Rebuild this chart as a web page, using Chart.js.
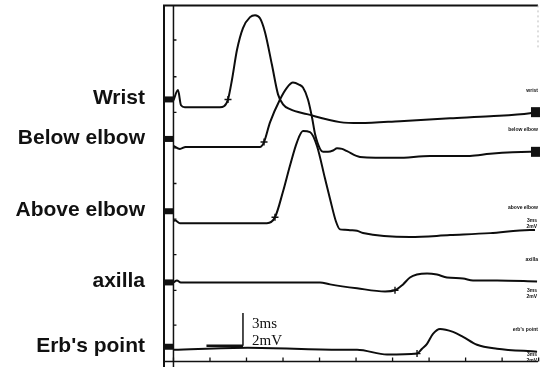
<!DOCTYPE html>
<html>
<head>
<meta charset="utf-8">
<script src="https://cdn.jsdelivr.net/npm/chart.js@4.4.0/dist/chart.umd.min.js"></script>
<style>
  body { margin: 0; background: #fff; }
  #wrap { width: 548px; height: 367px; }
</style>
</head>
<body>
<div id="wrap"><canvas id="grafico" width="548" height="367"></canvas></div>
<script>
// nomes dos pontos de estimulo
var nomes = ['Wrist', 'Below elbow', 'Above elbow', 'axilla', "Erb's point"]
var nomesPequenos = ['wrist', 'below elbow', 'above elbow', 'axilla', "erb's point"]

// linha de base de cada traco (mV, empilhado)
var baseTraco = [15.58, 13.15, 8.48, 4.85, 0.73]
// nivel do marcador preto da esquerda
var baseMarca = [16.06, 13.64, 9.21, 4.85, 0.91]

// tempo (ms) e amplitude (mV, relativa a base)
var wristT = [0, 0.37, 0.62, 0.94, 3.82, 4.15, 4.48, 4.81, 5.22, 5.71, 6.29, 6.70, 7.11, 7.52, 8.09, 8.59, 9.00, 9.57, 10.97, 13.68, 15.32, 18.61, 22.72, 26.01, 29.29, 29.70]
var wristV = [0.42, 1.05, 0.12, 0, 0, 0.06, 0.48, 1.70, 3.52, 4.85, 5.52, 5.64, 5.45, 4.6, 2.6, 0.79, 0.18, -0.12, -0.42, -0.91, -0.97, -0.85, -0.67, -0.55, -0.36, -0.30]

var belowT = [0, 0.53, 1.0, 7.10, 7.44, 7.93, 8.75, 9.33, 9.82, 10.31, 10.64, 11.05, 11.38, 11.63, 12.04, 12.29, 12.70, 13.11, 13.44, 13.85, 14.26, 15.32, 18.37, 21.08, 24.36, 26.01, 29.29, 29.70]
var belowV = [0.06, -0.12, 0, 0, 0.30, 1.5, 2.91, 3.64, 3.94, 3.82, 3.64, 2.91, 1.82, 0.79, -0.12, -0.30, -0.30, -0.22, -0.08, -0.12, -0.26, -0.61, -0.67, -0.55, -0.55, -0.42, -0.30, -0.30]

var aboveT = [0, 0.12, 0.53, 1.0, 7.68, 8.34, 9.00, 9.57, 10.15, 10.64, 11.22, 11.79, 12.45, 12.86, 13.35, 13.68, 14.09, 14.50, 15.08, 15.57, 19.43, 22.72, 26.01, 29.29, 29.70]
var aboveV = [0.12, 0.18, 0, 0, 0, 0.36, 1.94, 3.52, 4.97, 5.64, 5.58, 4.73, 2.73, 1.5, 0.1, -0.38, -0.40, -0.43, -0.47, -0.6, -0.85, -0.73, -0.61, -0.42, -0.42]

var axillaT = [0, 0.29, 0.6, 12.04, 12.86, 15.08, 17.38, 18.20, 18.86, 19.43, 20.0, 20.83, 21.65, 22.47, 23.79, 24.61, 26.58, 29.87]
var axillaV = [0, 0.12, 0, 0, -0.12, -0.36, -0.55, -0.48, -0.12, 0.30, 0.48, 0.55, 0.48, 0.30, 0.24, 0.12, 0.12, 0.06]

var erbT = [0, 6.12, 13.68, 15.08, 17.54, 20.01, 20.42, 20.83, 21.32, 21.90, 22.97, 23.79, 24.94, 26.58, 29.87]
var erbV = [0, 0.12, 0, 0, -0.30, -0.24, 0.06, 0.36, 0.97, 1.27, 1.09, 0.79, 0.30, 0.06, -0.12]

// latencia (inicio) de cada traco, em ms
var latencia = [4.48, 7.44, 8.34, 18.20, 20.01]

// eixo do tempo: marcas a cada 3 ms
var ticksX = [0, 3, 6, 9, 12, 15, 18, 21, 24, 27, 30]
var ticksY = [19.70, 17.45, 15.27, 13.09, 10.91, 8.73, 6.55, 4.36, 2.24]

// barra de calibracao 3ms / 2mV
var barraInicio = 2.71
var barraMs = 3
var barraMv = 2
var barraBase = 0.97

var tempos = [wristT, belowT, aboveT, axillaT, erbT]
var valores = [wristV, belowV, aboveV, axillaV, erbV]

function montarTraco(i) {
    var pts = []
    for (let k = 0; k < tempos[i].length; k++) {
        pts.push({ x: tempos[i][k], y: baseTraco[i] + valores[i][k] })
    }
    return pts
}

var datasets = []
for (let i = 0; i < nomes.length; i++) {
    datasets.push({
        label: nomes[i],
        data: montarTraco(i),
        borderColor: '#0d0d0d',
        borderWidth: 2,
        pointRadius: 0,
        cubicInterpolationMode: 'monotone',
        fill: false
    })
}

// cruzinhas nas latencias
var cruzes = []
for (let i = 0; i < latencia.length; i++) {
    var k = tempos[i].indexOf(latencia[i])
    cruzes.push({ x: latencia[i], y: baseTraco[i] + valores[i][k] })
}
datasets.push({
    label: 'latencia',
    data: cruzes,
    showLine: false,
    pointStyle: 'cross',
    pointRadius: 3.5,
    pointBorderWidth: 1.4,
    pointBorderColor: '#111'
})

// barra de calibracao (horizontal mais grossa, vertical fina)
datasets.push({
    label: 'barra_h',
    data: [
        { x: barraInicio, y: barraBase },
        { x: barraInicio + barraMs, y: barraBase }
    ],
    borderColor: '#111',
    borderWidth: 2.4,
    pointRadius: 0
})
datasets.push({
    label: 'barra_v',
    data: [
        { x: barraInicio + barraMs, y: barraBase },
        { x: barraInicio + barraMs, y: barraBase + barraMv }
    ],
    borderColor: '#111',
    borderWidth: 1.5,
    pointRadius: 0
})

var moldura = {
    id: 'moldura',
    afterDraw(chart) {
        var ctx = chart.ctx
        var sx = chart.scales.x
        var sy = chart.scales.y
        var a = chart.chartArea
        var x0 = sx.getPixelForValue(0)
        ctx.save()
        ctx.strokeStyle = '#111'
        ctx.fillStyle = '#111'

        // bordas
        ctx.lineWidth = 2
        ctx.beginPath()
        ctx.moveTo(a.left + 1, a.top); ctx.lineTo(a.left + 1, 367)
        ctx.moveTo(a.left, a.top); ctx.lineTo(a.right - 1, a.top)
        ctx.stroke()
        ctx.lineWidth = 1.5
        ctx.beginPath()
        ctx.moveTo(x0, a.top); ctx.lineTo(x0, 367)
        ctx.moveTo(a.left, a.bottom); ctx.lineTo(a.right - 1, a.bottom)
        ctx.stroke()

        // pontilhado da direita
        ctx.strokeStyle = '#bbb'
        ctx.lineWidth = 1
        ctx.setLineDash([2, 3])
        ctx.beginPath()
        ctx.moveTo(a.right - 1, a.top); ctx.lineTo(a.right - 1, a.top + 45)
        ctx.stroke()
        ctx.setLineDash([])
        ctx.strokeStyle = '#111'

        // marcas dos eixos
        ctx.lineWidth = 1.3
        ctx.beginPath()
        for (let i = 0; i < ticksX.length; i++) {
            var px = sx.getPixelForValue(ticksX[i])
            ctx.moveTo(px, a.bottom); ctx.lineTo(px, a.bottom - 4)
        }
        for (let i = 0; i < ticksY.length; i++) {
            var py = sy.getPixelForValue(ticksY[i])
            ctx.moveTo(x0, py); ctx.lineTo(x0 + 3, py)
        }
        ctx.stroke()

        // blocos pretos e nomes
        for (let i = 0; i < nomes.length; i++) {
            var yb = sy.getPixelForValue(baseMarca[i])
            ctx.fillRect(a.left, yb - 3, x0 - a.left, 6)

            ctx.font = 'bold 21px "Liberation Sans", Arial, sans-serif'
            ctx.textAlign = 'right'
            ctx.textBaseline = 'middle'
            ctx.fillText(nomes[i], 145, yb - 1)

            // legendinhas da direita
            var ultimo = tempos[i].length - 1
            var yf = sy.getPixelForValue(baseTraco[i] + valores[i][ultimo])
            ctx.font = 'bold 5px "Liberation Sans", sans-serif'
            ctx.fillText(nomesPequenos[i], a.right - 1, yf - 22)
            if (i >= 2) {
                var desl = i == 4 ? 12 : (i == 3 ? 18 : 0)
                ctx.fillText('3ms', a.right - 2, yf - 9 + desl)
                ctx.fillText('2mV', a.right - 2, yf - 3 + desl)
            }
        }

        // quadradinhos no fim dos dois primeiros
        for (let i = 0; i < 2; i++) {
            var u = tempos[i].length - 1
            var xe = sx.getPixelForValue(tempos[i][u])
            var ye = sy.getPixelForValue(baseTraco[i] + valores[i][u])
            ctx.fillRect(xe - 4, ye - 5, 9, 10)
        }

        // texto da barra
        var xb = sx.getPixelForValue(barraInicio + barraMs)
        ctx.font = '15px "Liberation Serif", "Times New Roman", serif'
        ctx.textAlign = 'left'
        ctx.textBaseline = 'middle'
        ctx.fillText('3ms', xb + 9, sy.getPixelForValue(barraBase + barraMv * 0.68))
        ctx.fillText('2mV', xb + 9, sy.getPixelForValue(barraBase + barraMv * 0.15))
        ctx.restore()
    }
}

new Chart(document.getElementById('grafico'), {
    type: 'line',
    data: { datasets: datasets },
    options: {
        responsive: false,
        animation: false,
        layout: { padding: { left: 163, top: 5, right: 9, bottom: 2 } },
        scales: {
            x: { type: 'linear', display: false, min: -0.86, max: 30.03 },
            y: { type: 'linear', display: false, min: 0, max: 21.82 }
        },
        plugins: {
            legend: { display: false },
            tooltip: { enabled: false }
        }
    },
    plugins: [moldura]
})
</script>
</body>
</html>
